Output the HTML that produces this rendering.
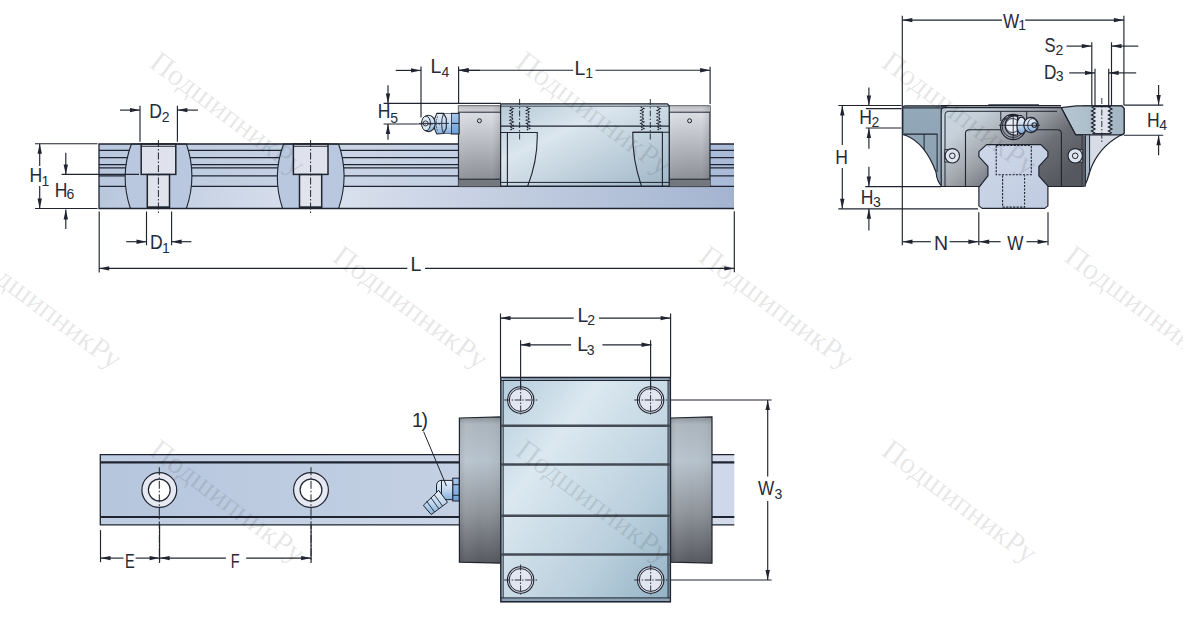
<!DOCTYPE html><html><head><meta charset="utf-8"><style>html,body{margin:0;padding:0;background:#fff;} svg{display:block;} text{font-family:"Liberation Sans",sans-serif;}</style></head><body>
<svg width="1183" height="627" viewBox="0 0 1183 627">
<defs>
<linearGradient id="railLow" x1="0" y1="0" x2="1" y2="0">
 <stop offset="0" stop-color="#b9c7dd"/><stop offset="0.35" stop-color="#dbe2ee"/><stop offset="1" stop-color="#a4b4d0"/>
</linearGradient>
<linearGradient id="railTop" x1="0" y1="0" x2="1" y2="0">
 <stop offset="0" stop-color="#b9c8de"/><stop offset="0.4" stop-color="#c9d4e6"/><stop offset="0.75" stop-color="#bccae0"/><stop offset="1" stop-color="#a9bad8"/>
</linearGradient>
<linearGradient id="sealV" x1="0" y1="0" x2="0" y2="1">
 <stop offset="0" stop-color="#dfe3e8"/><stop offset="0.12" stop-color="#d9dde2"/><stop offset="0.55" stop-color="#b0b4ba"/><stop offset="0.9" stop-color="#8e9198"/><stop offset="1" stop-color="#888b92"/>
</linearGradient>
<linearGradient id="sealTop" x1="0" y1="0" x2="0" y2="1">
 <stop offset="0" stop-color="#a9abb1"/><stop offset="0.3" stop-color="#c6c8cd"/><stop offset="1" stop-color="#cfd1d5"/>
</linearGradient>
<linearGradient id="sealEdge" x1="0" y1="0" x2="1" y2="0">
 <stop offset="0" stop-color="#ffffff" stop-opacity="0.05"/><stop offset="0.8" stop-color="#000000" stop-opacity="0"/><stop offset="1" stop-color="#000000" stop-opacity="0.12"/>
</linearGradient>
<linearGradient id="blockSide" x1="0" y1="0" x2="1" y2="1">
 <stop offset="0" stop-color="#b4c8d6"/><stop offset="0.35" stop-color="#dbe6ee"/><stop offset="1" stop-color="#9fb6c6"/>
</linearGradient>
<linearGradient id="blockPlan" x1="0" y1="0" x2="1" y2="1">
 <stop offset="0" stop-color="#b3cbdb"/><stop offset="0.3" stop-color="#dbe8f0"/><stop offset="0.7" stop-color="#b9cfdc"/><stop offset="1" stop-color="#92b1c5"/>
</linearGradient>
<linearGradient id="sealPlan" x1="0" y1="0" x2="0" y2="1">
 <stop offset="0" stop-color="#8a9096"/><stop offset="0.05" stop-color="#abb5bd"/><stop offset="0.3" stop-color="#b6c2cc"/><stop offset="0.65" stop-color="#8f949b"/><stop offset="1" stop-color="#56585e"/>
</linearGradient>
<linearGradient id="sealPlanV" x1="0" y1="0" x2="1" y2="0">
 <stop offset="0" stop-color="#000000" stop-opacity="0.06"/><stop offset="0.15" stop-color="#ffffff" stop-opacity="0.06"/><stop offset="0.5" stop-color="#ffffff" stop-opacity="0"/><stop offset="1" stop-color="#000000" stop-opacity="0.06"/>
</linearGradient>
<linearGradient id="railPlan" x1="0" y1="0" x2="1" y2="0">
 <stop offset="0" stop-color="#b6c6dd"/><stop offset="0.5" stop-color="#c2cfe3"/><stop offset="1" stop-color="#cfd8ea"/>
</linearGradient>
<linearGradient id="endSeal" x1="0" y1="0" x2="1" y2="0">
 <stop offset="0" stop-color="#c9d6e0"/><stop offset="0.45" stop-color="#b8c4ce"/><stop offset="1" stop-color="#5d5f68"/>
</linearGradient>
</defs>
<rect x="99" y="144" width="635" height="42.5" fill="url(#railTop)"/>
<rect x="99" y="186.5" width="635" height="22.0" fill="url(#railLow)"/>
<line x1="99" y1="150.3" x2="734" y2="150.3" stroke="#1f2430" stroke-width="1.3" />
<line x1="99" y1="157.7" x2="734" y2="157.7" stroke="#1f2430" stroke-width="1.3" />
<line x1="99" y1="164.6" x2="734" y2="164.6" stroke="#1f2430" stroke-width="1.3" />
<line x1="99" y1="167.9" x2="734" y2="167.9" stroke="#1f2430" stroke-width="1.3" />
<line x1="99" y1="175.8" x2="734" y2="175.8" stroke="#1f2430" stroke-width="1.3" />
<line x1="99" y1="186.3" x2="734" y2="186.3" stroke="#1f2430" stroke-width="1.3" />
<path d="M131.4,144 Q119.4,176 130.4,208.5 L186.4,208.5 Q197.4,176 186.4,144 Z" fill="#b9c8de" stroke="#1f2430" stroke-width="1.1"/>
<rect x="141.20000000000002" y="144" width="34.6" height="30.4" fill="#dfe2ec" stroke="#1f2430" stroke-width="1.5"/>
<line x1="141.20000000000002" y1="146.3" x2="175.6" y2="146.3" stroke="#1f2430" stroke-width="1.1" />
<rect x="147.3" y="174.6" width="22.2" height="33.2" fill="#e0e3ec" stroke="#1f2430" stroke-width="1.5"/>
<line x1="147.3" y1="207.3" x2="169.5" y2="207.3" stroke="#1f2430" stroke-width="2" />
<line x1="158.4" y1="140" x2="158.4" y2="213" stroke="#1f2430" stroke-width="1" stroke-dasharray="7,2,1.5,2"/>
<path d="M283.6,144 Q271.6,176 282.6,208.5 L338.6,208.5 Q349.6,176 338.6,144 Z" fill="#b9c8de" stroke="#1f2430" stroke-width="1.1"/>
<rect x="293.40000000000003" y="144" width="34.6" height="30.4" fill="#dfe2ec" stroke="#1f2430" stroke-width="1.5"/>
<line x1="293.40000000000003" y1="146.3" x2="327.8" y2="146.3" stroke="#1f2430" stroke-width="1.1" />
<rect x="299.5" y="174.6" width="22.2" height="33.2" fill="#e0e3ec" stroke="#1f2430" stroke-width="1.5"/>
<line x1="299.5" y1="207.3" x2="321.70000000000005" y2="207.3" stroke="#1f2430" stroke-width="2" />
<line x1="310.6" y1="140" x2="310.6" y2="213" stroke="#1f2430" stroke-width="1" stroke-dasharray="7,2,1.5,2"/>
<path d="M734,144 L99,144 L99,208.5 L734,208.5" fill="none" stroke="#1f2430" stroke-width="1.3"/>
<rect x="458.5" y="106" width="42.10000000000002" height="80.5" fill="url(#sealV)" stroke="#1f2430" stroke-width="1.2"/>
<rect x="458.5" y="106" width="42.10000000000002" height="6.2" fill="url(#sealTop)"/>
<line x1="458.5" y1="112.2" x2="500.6" y2="112.2" stroke="#1f2430" stroke-width="1" />
<rect x="458.5" y="106" width="42.10000000000002" height="80.5" fill="url(#sealEdge)"/>
<rect x="458.5" y="179.2" width="42.10000000000002" height="7.3" fill="#74777e"/>
<line x1="458.5" y1="179.2" x2="500.6" y2="179.2" stroke="#1f2430" stroke-width="1" />
<rect x="669.2" y="106" width="40.799999999999955" height="80.5" fill="url(#sealV)" stroke="#1f2430" stroke-width="1.2"/>
<rect x="669.2" y="106" width="40.799999999999955" height="6.2" fill="url(#sealTop)"/>
<line x1="669.2" y1="112.2" x2="710" y2="112.2" stroke="#1f2430" stroke-width="1" />
<rect x="669.2" y="106" width="40.799999999999955" height="80.5" fill="url(#sealEdge)"/>
<rect x="669.2" y="179.2" width="40.799999999999955" height="7.3" fill="#74777e"/>
<line x1="669.2" y1="179.2" x2="710" y2="179.2" stroke="#1f2430" stroke-width="1" />
<circle cx="479.4" cy="120.8" r="2" fill="none" stroke="#1f2430" stroke-width="1"/>
<circle cx="689.6" cy="120.8" r="2" fill="none" stroke="#1f2430" stroke-width="1"/>
<path d="M500.6,186 L500.6,105.3 Q500.6,103.8 502,103.8 L667.2,103.8 L669.2,105.8 L669.2,186 Z" fill="url(#blockSide)" stroke="#1f2430" stroke-width="1.2"/>
<line x1="500.6" y1="106.2" x2="669.2" y2="106.2" stroke="#1f2430" stroke-width="0.8" />
<line x1="500.6" y1="126.1" x2="669.2" y2="126.1" stroke="#1f2430" stroke-width="1.3" />
<line x1="500.6" y1="182.4" x2="669.2" y2="182.4" stroke="#1f2430" stroke-width="1" />
<path d="M507.4,186 L507.4,132.5 L537.2,132.5 C537.8,152 534,170 527.7,186" fill="none" stroke="#1f2430" stroke-width="1.1"/>
<line x1="500.6" y1="132.5" x2="537.2" y2="132.5" stroke="#1f2430" stroke-width="1.1" />
<path d="M662.4,186 L662.4,132.3 L632.8,132.3 C632.2,152 636,170 641.4,186" fill="none" stroke="#1f2430" stroke-width="1.1"/>
<line x1="632.8" y1="132.3" x2="669.2" y2="132.3" stroke="#1f2430" stroke-width="1.1" />
<polyline points="510.0,107.0 513.2,108.7 510.0,110.3 513.2,112.0 510.0,113.6 513.2,115.3 510.0,116.9 513.2,118.6 510.0,120.2 513.2,121.9 510.0,123.5 513.2,125.2 510.0,126.8 513.2,128.5 510.0,130.1" fill="none" stroke="#1f2430" stroke-width="1.2" stroke-dasharray="1.6,0.7"/>
<polyline points="526.4,107.0 529.6,108.7 526.4,110.3 529.6,112.0 526.4,113.6 529.6,115.3 526.4,116.9 529.6,118.6 526.4,120.2 529.6,121.9 526.4,123.5 529.6,125.2 526.4,126.8 529.6,128.5 526.4,130.1" fill="none" stroke="#1f2430" stroke-width="1.2" stroke-dasharray="1.6,0.7"/>
<line x1="519.6" y1="99" x2="519.6" y2="141" stroke="#1f2430" stroke-width="0.9" stroke-dasharray="6,2,1.5,2"/>
<polyline points="640.7,107.0 643.9,108.7 640.7,110.3 643.9,112.0 640.7,113.6 643.9,115.3 640.7,116.9 643.9,118.6 640.7,120.2 643.9,121.9 640.7,123.5 643.9,125.2 640.7,126.8 643.9,128.5 640.7,130.1" fill="none" stroke="#1f2430" stroke-width="1.2" stroke-dasharray="1.6,0.7"/>
<polyline points="657.1,107.0 660.3,108.7 657.1,110.3 660.3,112.0 657.1,113.6 660.3,115.3 657.1,116.9 660.3,118.6 657.1,120.2 660.3,121.9 657.1,123.5 660.3,125.2 657.1,126.8 660.3,128.5 657.1,130.1" fill="none" stroke="#1f2430" stroke-width="1.2" stroke-dasharray="1.6,0.7"/>
<line x1="650.3" y1="99" x2="650.3" y2="141" stroke="#1f2430" stroke-width="0.9" stroke-dasharray="6,2,1.5,2"/>
<defs><linearGradient id="nipV" x1="0" y1="0" x2="0" y2="1"><stop offset="0" stop-color="#e8f0f8"/><stop offset="0.5" stop-color="#c2d8ee"/><stop offset="1" stop-color="#86b0de"/></linearGradient><linearGradient id="nipB" x1="0" y1="0" x2="0" y2="1"><stop offset="0" stop-color="#a8c8ea"/><stop offset="1" stop-color="#6c9fd8"/></linearGradient></defs>
<rect x="451.3" y="113.4" width="7.8" height="20.6" fill="url(#nipB)" stroke="#1f2430" stroke-width="1.1"/>
<line x1="451.3" y1="123.4" x2="459.1" y2="123.4" stroke="#1f2430" stroke-width="1" />
<rect x="443.5" y="113.6" width="7.8" height="19.9" fill="url(#nipV)" stroke="#1f2430" stroke-width="0.6"/>
<path d="M436.8,113.4 L443.5,113.4 L446.3,118.4 L446.3,128.4 L443.5,133.5 L436.8,134 Q431,123.7 436.8,113.4 Z" fill="url(#nipV)" stroke="#1f2430" stroke-width="1.1"/>
<path d="M443.3,114 Q440,123.7 443.3,133.3" fill="none" stroke="#1f2430" stroke-width="0.9"/>
<path d="M437.5,116.5 Q435,123.7 437.5,131" fill="none" stroke="#1f2430" stroke-width="0.8" stroke-dasharray="1.5,1"/>
<ellipse cx="428.6" cy="123.4" rx="6.6" ry="8.2" fill="url(#nipV)" stroke="#1f2430" stroke-width="1.1"/>
<ellipse cx="426" cy="123.4" rx="4.4" ry="7.3" fill="#dfe9f4" stroke="#1f2430" stroke-width="1"/>
<circle cx="425.6" cy="123.4" r="2.5" fill="none" stroke="#1f2430" stroke-width="0.9"/>
<line x1="419" y1="123.4" x2="449" y2="123.4" stroke="#1f2430" stroke-width="0.9" />
<line x1="140" y1="105.8" x2="140" y2="141.7" stroke="#1f2430" stroke-width="1.15" />
<line x1="177.4" y1="105.8" x2="177.4" y2="141.7" stroke="#1f2430" stroke-width="1.15" />
<line x1="120" y1="110.1" x2="140" y2="110.1" stroke="#1f2430" stroke-width="1.15" />
<polygon points="140.0,110.1 130.0,107.9 130.0,112.3" fill="#1f2430"/>
<line x1="198" y1="110.1" x2="177.4" y2="110.1" stroke="#1f2430" stroke-width="1.15" />
<polygon points="177.4,110.1 187.4,107.9 187.4,112.3" fill="#1f2430"/>
<text transform="translate(149.3,118.1) scale(0.9,1)" font-size="19.5" fill="#262b38">D</text>
<text transform="translate(161.8,122.0) scale(1.0,1)" font-size="14" fill="#262b38">2</text>
<line x1="146.5" y1="211.5" x2="146.5" y2="245.3" stroke="#1f2430" stroke-width="1.15" />
<line x1="171.6" y1="211.5" x2="171.6" y2="245.3" stroke="#1f2430" stroke-width="1.15" />
<line x1="126.2" y1="241.7" x2="146.5" y2="241.7" stroke="#1f2430" stroke-width="1.15" />
<polygon points="146.5,241.7 136.5,239.5 136.5,243.9" fill="#1f2430"/>
<line x1="191.4" y1="241.7" x2="171.6" y2="241.7" stroke="#1f2430" stroke-width="1.15" />
<polygon points="171.6,241.7 181.6,239.5 181.6,243.9" fill="#1f2430"/>
<text transform="translate(150.1,248.7) scale(0.9,1)" font-size="19.5" fill="#262b38">D</text>
<text transform="translate(162.1,252.7) scale(1.0,1)" font-size="14" fill="#262b38">1</text>
<line x1="35" y1="143.7" x2="97.5" y2="143.7" stroke="#1f2430" stroke-width="1.15" />
<line x1="35" y1="208.5" x2="97.5" y2="208.5" stroke="#1f2430" stroke-width="1.15" />
<line x1="39.7" y1="166" x2="39.7" y2="143.7" stroke="#1f2430" stroke-width="1.15" />
<polygon points="39.7,143.7 37.5,153.7 41.9,153.7" fill="#1f2430"/>
<line x1="39.7" y1="186" x2="39.7" y2="208.5" stroke="#1f2430" stroke-width="1.15" />
<polygon points="39.7,208.5 37.5,198.5 41.9,198.5" fill="#1f2430"/>
<text transform="translate(29.4,182.3) scale(0.9,1)" font-size="19.5" fill="#262b38">H</text>
<text transform="translate(41.4,186.0) scale(1.0,1)" font-size="14" fill="#262b38">1</text>
<line x1="61.6" y1="174.4" x2="139" y2="174.4" stroke="#1f2430" stroke-width="1.15" />
<line x1="65.8" y1="152.8" x2="65.8" y2="174.4" stroke="#1f2430" stroke-width="1.15" />
<polygon points="65.8,174.4 63.6,164.4 68.0,164.4" fill="#1f2430"/>
<line x1="65.8" y1="229" x2="65.8" y2="209.5" stroke="#1f2430" stroke-width="1.15" />
<polygon points="65.8,209.5 63.6,219.5 68.0,219.5" fill="#1f2430"/>
<text transform="translate(54.7,196.5) scale(0.9,1)" font-size="19.5" fill="#262b38">H</text>
<text transform="translate(66.5,198.8) scale(1.0,1)" font-size="14" fill="#262b38">6</text>
<line x1="99.2" y1="211.5" x2="99.2" y2="272.4" stroke="#1f2430" stroke-width="1.15" />
<line x1="734.3" y1="211.2" x2="734.3" y2="272.3" stroke="#1f2430" stroke-width="1.15" />
<line x1="407.3" y1="268.4" x2="99.2" y2="268.4" stroke="#1f2430" stroke-width="1.15" />
<polygon points="99.2,268.4 109.2,266.2 109.2,270.6" fill="#1f2430"/>
<line x1="425" y1="268.4" x2="734.3" y2="268.4" stroke="#1f2430" stroke-width="1.15" />
<polygon points="734.3,268.4 724.3,266.2 724.3,270.6" fill="#1f2430"/>
<text transform="translate(410.5,271.3) scale(1.0,1)" font-size="19.5" fill="#262b38">L</text>
<line x1="458.6" y1="66.5" x2="458.6" y2="104" stroke="#1f2430" stroke-width="1.15" />
<line x1="710.1" y1="66.8" x2="710.1" y2="104" stroke="#1f2430" stroke-width="1.15" />
<line x1="573.2" y1="70.2" x2="458.6" y2="70.2" stroke="#1f2430" stroke-width="1.15" />
<polygon points="458.6,70.2 468.6,68.0 468.6,72.4" fill="#1f2430"/>
<line x1="595.5" y1="70.2" x2="710.1" y2="70.2" stroke="#1f2430" stroke-width="1.15" />
<polygon points="710.1,70.2 700.1,68.0 700.1,72.4" fill="#1f2430"/>
<text transform="translate(574.6,74.9) scale(1.0,1)" font-size="19.5" fill="#262b38">L</text>
<text transform="translate(585.3,77.7) scale(1.0,1)" font-size="14" fill="#262b38">1</text>
<line x1="421" y1="66.5" x2="421" y2="117.5" stroke="#1f2430" stroke-width="1.15" />
<line x1="395.8" y1="70.4" x2="421" y2="70.4" stroke="#1f2430" stroke-width="1.15" />
<polygon points="421.0,70.4 411.0,68.2 411.0,72.6" fill="#1f2430"/>
<line x1="480" y1="70.4" x2="458.6" y2="70.4" stroke="#1f2430" stroke-width="1.15" />
<polygon points="458.6,70.4 468.6,68.2 468.6,72.6" fill="#1f2430"/>
<text transform="translate(430.4,73.0) scale(1.0,1)" font-size="19.5" fill="#262b38">L</text>
<text transform="translate(441.5,76.5) scale(1.0,1)" font-size="14" fill="#262b38">4</text>
<line x1="383.6" y1="103.4" x2="501" y2="103.4" stroke="#1f2430" stroke-width="1.15" />
<line x1="383.6" y1="124" x2="417.4" y2="124" stroke="#1f2430" stroke-width="1.15" />
<line x1="388" y1="85.2" x2="388" y2="103.4" stroke="#1f2430" stroke-width="1.15" />
<polygon points="388.0,103.4 385.8,93.4 390.2,93.4" fill="#1f2430"/>
<line x1="388" y1="139.7" x2="388" y2="124" stroke="#1f2430" stroke-width="1.15" />
<polygon points="388.0,124.0 385.8,134.0 390.2,134.0" fill="#1f2430"/>
<text transform="translate(377.7,118.2) scale(0.9,1)" font-size="19.5" fill="#262b38">H</text>
<text transform="translate(390.2,122.5) scale(1.0,1)" font-size="14" fill="#262b38">5</text>
<line x1="417.4" y1="124" x2="440" y2="124" stroke="#1f2430" stroke-width="0.9" stroke-dasharray="5,2,1.5,2"/>
<defs>
<linearGradient id="flangeL" x1="0" y1="0" x2="0" y2="1"><stop offset="0" stop-color="#93a8b8"/><stop offset="1" stop-color="#8aa0b1"/></linearGradient>
<linearGradient id="flangeRTop" x1="0" y1="0" x2="1" y2="0"><stop offset="0" stop-color="#b6c6d2"/><stop offset="1" stop-color="#a3b5c3"/></linearGradient>
<linearGradient id="endBody" x1="0" y1="0" x2="1" y2="0.7"><stop offset="0" stop-color="#c8d5df"/><stop offset="0.22" stop-color="#c6d1da"/><stop offset="0.48" stop-color="#a2a7ae"/><stop offset="0.72" stop-color="#6c6e76"/><stop offset="1" stop-color="#56585f"/></linearGradient>
<linearGradient id="railEnd" x1="0" y1="0" x2="1" y2="1"><stop offset="0" stop-color="#cfd8e9"/><stop offset="1" stop-color="#c0cbe1"/></linearGradient>
<linearGradient id="nipBlue" x1="0" y1="0" x2="0" y2="1"><stop offset="0" stop-color="#eef3f9"/><stop offset="0.5" stop-color="#c6d9ee"/><stop offset="1" stop-color="#7aa6d8"/></linearGradient>
</defs>
<path d="M902.8,134.5 L902.8,108.5 Q902.8,105.8 905.5,105.8 L946,105.8 L946,186.5 L942,186.5 Q937,182 936,172 Q925,143 906,135.5 Z" fill="url(#flangeL)" stroke="#1f2430" stroke-width="1.2"/>
<line x1="903.5" y1="107.6" x2="946" y2="107.6" stroke="#4a5560" stroke-width="2.2" />
<line x1="904" y1="134.1" x2="937.4" y2="134.1" stroke="#1f2430" stroke-width="1.1" />
<line x1="924.1" y1="134.1" x2="924.1" y2="150" stroke="#1f2430" stroke-width="1" />
<line x1="937.1" y1="134.1" x2="937.1" y2="172" stroke="#1f2430" stroke-width="1" />
<path d="M1083,186.5 L1083,105.8 L1121.8,105.8 L1124.1,108.5 L1124.1,132.6 Q1124,135 1120,135.6 Q1098,148 1090,171 Q1087,182 1084,186.5 Z" fill="#d8dce6" stroke="#1f2430" stroke-width="1.2"/>
<path d="M1061.2,107.6 L1076.4,105.8 L1121.8,105.8 L1124.1,108.5 L1124.1,132.6 Q1124,134.8 1119.5,134.8 L1075.6,134.8 Z" fill="url(#flangeRTop)" stroke="#1f2430" stroke-width="1.2"/>
<rect x="1092.3" y="106.2" width="18.9" height="28" fill="#dee3ec"/>
<polyline points="1091.6,107.0 1095.0,109.0 1091.6,111.0 1095.0,113.0 1091.6,115.0 1095.0,117.0 1091.6,119.0 1095.0,121.0 1091.6,123.0 1095.0,125.0 1091.6,127.0 1095.0,129.0 1091.6,131.0 1095.0,133.0" fill="none" stroke="#1f2430" stroke-width="1.3"/>
<polyline points="1108.5,107.0 1111.9,109.0 1108.5,111.0 1111.9,113.0 1108.5,115.0 1111.9,117.0 1108.5,119.0 1111.9,121.0 1108.5,123.0 1111.9,125.0 1108.5,127.0 1111.9,129.0 1108.5,131.0 1111.9,133.0" fill="none" stroke="#1f2430" stroke-width="1.3"/>
<line x1="1092.3" y1="106.5" x2="1111.2" y2="106.5" stroke="#1f2430" stroke-width="1.5" />
<line x1="1092.3" y1="133.8" x2="1111.2" y2="133.8" stroke="#1f2430" stroke-width="1.5" />
<line x1="1101.8" y1="98" x2="1101.8" y2="142" stroke="#1f2430" stroke-width="0.9" stroke-dasharray="6,2,1.5,2"/>
<path d="M941.2,186.5 L941.2,111 Q941.2,107.6 944.5,107.6 L1061.2,107.6 L1075.6,134.8 L1082.4,134.8 L1082.4,186.5 Z" fill="url(#endBody)" stroke="#1f2430" stroke-width="1.2"/>
<path d="M945,186 L945,114.5 Q945,111.3 948.5,111.3 L1057,111.3" fill="none" stroke="#1f2430" stroke-width="1"/>
<path d="M965.5,186.5 L965.5,133.5 Q965.5,129.7 969.5,129.7 L1057.5,129.7 Q1061.4,129.7 1061.4,133.5 L1061.4,186.5" fill="none" stroke="#1f2430" stroke-width="1.1"/>
<path d="M1082.4,134.8 L1089.6,134.8 L1089.6,171 Q1087.5,181 1084,186.5 L1082.4,186.5 Z" fill="#a3b6c4" stroke="#1f2430" stroke-width="1"/>
<rect x="1082.4" y="135.3" width="3" height="51" fill="#5a5c63"/>
<line x1="1085.5" y1="134.8" x2="1085.5" y2="186.5" stroke="#1f2430" stroke-width="0.9" />
<line x1="988.3" y1="104.8" x2="1039" y2="104.8" stroke="#5a6470" stroke-width="1.6" />
<line x1="941" y1="105.8" x2="1061" y2="105.8" stroke="#1f2430" stroke-width="1.4" />
<rect x="944.8" y="149.6" width="7.5" height="12.4" fill="#c8d2dc" stroke="#1f2430" stroke-width="0.9"/>
<circle cx="952.3" cy="155.8" r="7.2" fill="#dfe5ec" stroke="#1f2430" stroke-width="1.1"/>
<circle cx="952.3" cy="155.8" r="2.8" fill="none" stroke="#1f2430" stroke-width="1"/>
<rect x="1075.2" y="149.6" width="7.5" height="12.4" fill="#c8d2dc" stroke="#1f2430" stroke-width="0.9"/>
<circle cx="1075.2" cy="155.8" r="7.2" fill="#dfe5ec" stroke="#1f2430" stroke-width="1.1"/>
<circle cx="1075.2" cy="155.8" r="2.8" fill="none" stroke="#1f2430" stroke-width="1"/>
<line x1="1000.8" y1="111.3" x2="1000.8" y2="121" stroke="#1f2430" stroke-width="1" />
<line x1="1026.7" y1="111.3" x2="1026.7" y2="121" stroke="#1f2430" stroke-width="1" />
<circle cx="1013.2" cy="127" r="12.6" fill="#9aa0a8" stroke="#1f2430" stroke-width="1.2"/>
<path d="M1004,119 L1007,115.5 L1022,115.5 L1025,119 Z" fill="#b9c0c8" stroke="#1f2430" stroke-width="1"/>
<circle cx="1013.2" cy="126.5" r="11" fill="none" stroke="#1f2430" stroke-width="0.9"/>
<path d="M1017.5,116.3 A9.6,9.6 0 1 0 1017.5,134.7 Z" fill="#e6edf5" stroke="#1f2430" stroke-width="1.2"/>
<circle cx="1012.5" cy="125.5" r="7" fill="none" stroke="#1f2430" stroke-width="0.9"/>
<ellipse cx="1021.5" cy="125.5" rx="4.6" ry="8.4" fill="url(#nipBlue)" stroke="#1f2430" stroke-width="1.2"/>
<ellipse cx="1031" cy="125" rx="7.2" ry="7.6" fill="url(#nipBlue)" stroke="#1f2430" stroke-width="1.2"/>
<ellipse cx="1032.5" cy="125" rx="4.8" ry="6.4" fill="none" stroke="#1f2430" stroke-width="0.9"/>
<circle cx="1034.3" cy="125" r="2.3" fill="none" stroke="#1f2430" stroke-width="1.1"/>
<line x1="999" y1="125.3" x2="1040" y2="125.3" stroke="#1f2430" stroke-width="0.9" />
<line x1="1013.2" y1="114" x2="1013.2" y2="139" stroke="#1f2430" stroke-width="0.9" />
<polygon points="986.6,144.6 1040.9,144.6 1047.9,151.6 1047.9,156.7 1038.9,166.3 1038.9,175.9 1047.9,186.1 1047.9,205.9 1044.7,208.4 982.1,208.4 978.9,205.9 978.9,187.3 987.9,175.9 987.9,166.3 978.9,156.7 978.9,151.6" fill="url(#railEnd)" stroke="#1f2430" stroke-width="1.2" stroke-linejoin="round"/>
<path d="M996.2,145.5 L996.2,174.8 L1031.3,174.8 L1031.3,145.5 M1002.6,175.6 L1002.6,207.1 L1024.6,207.1 L1024.6,175.6" fill="none" stroke="#1f2430" stroke-width="1.1" stroke-dasharray="2.2,1.3"/>
<line x1="996.2" y1="145.5" x2="1031.3" y2="145.5" stroke="#1f2430" stroke-width="1.1" stroke-dasharray="2.2,1.3"/>
<line x1="902.3" y1="15.8" x2="902.3" y2="245.3" stroke="#1f2430" stroke-width="1.15" />
<line x1="1123.9" y1="15.8" x2="1123.9" y2="105" stroke="#1f2430" stroke-width="1.15" />
<line x1="1002" y1="20.1" x2="902.3" y2="20.1" stroke="#1f2430" stroke-width="1.15" />
<polygon points="902.3,20.1 912.3,17.9 912.3,22.3" fill="#1f2430"/>
<line x1="1025.2" y1="20.1" x2="1123.9" y2="20.1" stroke="#1f2430" stroke-width="1.15" />
<polygon points="1123.9,20.1 1113.9,17.9 1113.9,22.3" fill="#1f2430"/>
<text transform="translate(1002.9,27.5) scale(0.88,1)" font-size="19.5" fill="#262b38">W</text>
<text transform="translate(1018.2,29.6) scale(1.0,1)" font-size="14" fill="#262b38">1</text>
<line x1="1091.8" y1="42.3" x2="1091.8" y2="106" stroke="#1f2430" stroke-width="1.15" />
<line x1="1111.5" y1="42.3" x2="1111.5" y2="106" stroke="#1f2430" stroke-width="1.15" />
<line x1="1095" y1="68.7" x2="1095" y2="106" stroke="#1f2430" stroke-width="1.15" />
<line x1="1108.7" y1="68.7" x2="1108.7" y2="106" stroke="#1f2430" stroke-width="1.15" />
<line x1="1066.5" y1="46.1" x2="1091.8" y2="46.1" stroke="#1f2430" stroke-width="1.15" />
<polygon points="1091.8,46.1 1081.8,43.9 1081.8,48.3" fill="#1f2430"/>
<line x1="1138.3" y1="46.1" x2="1111.5" y2="46.1" stroke="#1f2430" stroke-width="1.15" />
<polygon points="1111.5,46.1 1121.5,43.9 1121.5,48.3" fill="#1f2430"/>
<text transform="translate(1044.6,51.8) scale(0.85,1)" font-size="19.5" fill="#262b38">S</text>
<text transform="translate(1055.6,54.5) scale(1.0,1)" font-size="14" fill="#262b38">2</text>
<line x1="1069.2" y1="72.9" x2="1095" y2="72.9" stroke="#1f2430" stroke-width="1.15" />
<polygon points="1095.0,72.9 1085.0,70.7 1085.0,75.1" fill="#1f2430"/>
<line x1="1136.2" y1="72.9" x2="1108.7" y2="72.9" stroke="#1f2430" stroke-width="1.15" />
<polygon points="1108.7,72.9 1118.7,70.7 1118.7,75.1" fill="#1f2430"/>
<text transform="translate(1043.9,78.6) scale(0.88,1)" font-size="19.5" fill="#262b38">D</text>
<text transform="translate(1055.8,80.7) scale(1.0,1)" font-size="14" fill="#262b38">3</text>
<line x1="1123.8" y1="105.1" x2="1163.2" y2="105.1" stroke="#1f2430" stroke-width="1.15" />
<line x1="1123.8" y1="135.2" x2="1163.2" y2="135.2" stroke="#1f2430" stroke-width="1.15" />
<line x1="1158.6" y1="85" x2="1158.6" y2="105.1" stroke="#1f2430" stroke-width="1.15" />
<polygon points="1158.6,105.1 1156.4,95.1 1160.8,95.1" fill="#1f2430"/>
<line x1="1158.6" y1="155.3" x2="1158.6" y2="135.2" stroke="#1f2430" stroke-width="1.15" />
<polygon points="1158.6,135.2 1156.4,145.2 1160.8,145.2" fill="#1f2430"/>
<text transform="translate(1146.9,126.6) scale(0.9,1)" font-size="19.5" fill="#262b38">H</text>
<text transform="translate(1159.3,129.5) scale(1.0,1)" font-size="14" fill="#262b38">4</text>
<line x1="838.3" y1="105.5" x2="901.5" y2="105.5" stroke="#1f2430" stroke-width="1.15" />
<line x1="865.8" y1="108.6" x2="901.5" y2="108.6" stroke="#1f2430" stroke-width="1.15" />
<line x1="865.8" y1="128" x2="901.5" y2="128" stroke="#1f2430" stroke-width="1.15" />
<line x1="868.9" y1="87.6" x2="868.9" y2="105.5" stroke="#1f2430" stroke-width="1.15" />
<polygon points="868.9,105.5 866.7,95.5 871.1,95.5" fill="#1f2430"/>
<line x1="868.9" y1="148.8" x2="868.9" y2="128" stroke="#1f2430" stroke-width="1.15" />
<polygon points="868.9,128.0 866.7,138.0 871.1,138.0" fill="#1f2430"/>
<text transform="translate(859.2,123.8) scale(0.9,1)" font-size="19.5" fill="#262b38">H</text>
<text transform="translate(871.6,127.2) scale(1.0,1)" font-size="14" fill="#262b38">2</text>
<line x1="842.3" y1="145" x2="842.3" y2="105.5" stroke="#1f2430" stroke-width="1.15" />
<polygon points="842.3,105.5 840.1,115.5 844.5,115.5" fill="#1f2430"/>
<line x1="842.3" y1="168" x2="842.3" y2="208.8" stroke="#1f2430" stroke-width="1.15" />
<polygon points="842.3,208.8 840.1,198.8 844.5,198.8" fill="#1f2430"/>
<text transform="translate(835.3,164.1) scale(0.9,1)" font-size="19.5" fill="#262b38">H</text>
<line x1="865.3" y1="186.6" x2="941" y2="186.6" stroke="#1f2430" stroke-width="1.15" />
<line x1="838.3" y1="208.8" x2="978" y2="208.8" stroke="#1f2430" stroke-width="1.15" />
<line x1="868.9" y1="166.7" x2="868.9" y2="186.6" stroke="#1f2430" stroke-width="1.15" />
<polygon points="868.9,186.6 866.7,176.6 871.1,176.6" fill="#1f2430"/>
<line x1="868.9" y1="230.4" x2="868.9" y2="208.8" stroke="#1f2430" stroke-width="1.15" />
<polygon points="868.9,208.8 866.7,218.8 871.1,218.8" fill="#1f2430"/>
<text transform="translate(860.8,203.7) scale(0.9,1)" font-size="19.5" fill="#262b38">H</text>
<text transform="translate(872.9,207.0) scale(1.0,1)" font-size="14" fill="#262b38">3</text>
<line x1="978.8" y1="212.2" x2="978.8" y2="245.3" stroke="#1f2430" stroke-width="1.15" />
<line x1="1048" y1="212.2" x2="1048" y2="245.3" stroke="#1f2430" stroke-width="1.15" />
<line x1="930.9" y1="241.7" x2="902.5" y2="241.7" stroke="#1f2430" stroke-width="1.15" />
<polygon points="902.5,241.7 912.5,239.5 912.5,243.9" fill="#1f2430"/>
<line x1="949.6" y1="241.7" x2="978.4" y2="241.7" stroke="#1f2430" stroke-width="1.15" />
<polygon points="978.4,241.7 968.4,239.5 968.4,243.9" fill="#1f2430"/>
<text transform="translate(934.1,250.3) scale(1.0,1)" font-size="19.5" fill="#262b38">N</text>
<line x1="1000.6" y1="241.7" x2="979.2" y2="241.7" stroke="#1f2430" stroke-width="1.15" />
<polygon points="979.2,241.7 989.2,239.5 989.2,243.9" fill="#1f2430"/>
<line x1="1026.5" y1="241.7" x2="1047.6" y2="241.7" stroke="#1f2430" stroke-width="1.15" />
<polygon points="1047.6,241.7 1037.6,239.5 1037.6,243.9" fill="#1f2430"/>
<text transform="translate(1007.3,250.3) scale(0.88,1)" font-size="19.5" fill="#262b38">W</text>
<rect x="100.3" y="454.6" width="634" height="70.2" fill="url(#railPlan)"/>
<rect x="100.3" y="454.6" width="634" height="7.8" fill="#ffffff" opacity="0.12"/>
<rect x="100.3" y="517" width="634" height="7.8" fill="#ffffff" opacity="0.12"/>
<line x1="100.3" y1="462.4" x2="734.3" y2="462.4" stroke="#1f2430" stroke-width="2.2" />
<line x1="100.3" y1="517" x2="734.3" y2="517" stroke="#1f2430" stroke-width="2.2" />
<path d="M734.3,454.6 L100.3,454.6 L100.3,524.8 L734.3,524.8" fill="none" stroke="#1f2430" stroke-width="1.3"/>
<circle cx="159.3" cy="490" r="17.4" fill="#e6e9f1" stroke="#1f2430" stroke-width="1.2"/>
<circle cx="159.3" cy="490" r="10.9" fill="#ffffff" stroke="#1f2430" stroke-width="1.2"/>
<line x1="159.3" y1="467.3" x2="159.3" y2="563" stroke="#1f2430" stroke-width="1" stroke-dasharray="8,2,1.5,2"/>
<circle cx="311" cy="490" r="17.4" fill="#e6e9f1" stroke="#1f2430" stroke-width="1.2"/>
<circle cx="311" cy="490" r="10.9" fill="#ffffff" stroke="#1f2430" stroke-width="1.2"/>
<line x1="311" y1="467.3" x2="311" y2="563" stroke="#1f2430" stroke-width="1" stroke-dasharray="8,2,1.5,2"/>
<path d="M459.4,418 L501,416.8 L501,563.2 L459.4,562.2 Z" fill="url(#sealPlan)" stroke="#1f2430" stroke-width="1.2"/>
<path d="M459.4,418 L501,416.8 L501,563.2 L459.4,562.2 Z" fill="url(#sealPlanV)"/>
<path d="M670.5,418 L712,416.8 L712,563.2 L670.5,562.2 Z" fill="url(#sealPlan)" stroke="#1f2430" stroke-width="1.2"/>
<path d="M670.5,418 L712,416.8 L712,563.2 L670.5,562.2 Z" fill="url(#sealPlanV)"/>
<rect x="500.9" y="377.5" width="169.5" height="224.2" fill="url(#blockPlan)" stroke="#1f2430" stroke-width="1.3"/>
<rect x="500.9" y="377.5" width="169.5" height="3" fill="#8da3b4"/>
<rect x="500.9" y="377.5" width="2.3" height="224.2" fill="#b0c4d2"/>
<rect x="668" y="377.5" width="2.4" height="224.2" fill="#8499aa"/>
<rect x="500.9" y="597.9" width="169.5" height="3.8" fill="#8da3b4"/>
<rect x="500.9" y="377.5" width="169.5" height="224.2" fill="none" stroke="#1f2430" stroke-width="1.3"/>
<line x1="500.9" y1="380.5" x2="670.4" y2="380.5" stroke="#1f2430" stroke-width="1" />
<line x1="503.2" y1="380.5" x2="503.2" y2="598" stroke="#1f2430" stroke-width="0.9" />
<line x1="668" y1="380.5" x2="668" y2="598" stroke="#1f2430" stroke-width="0.9" />
<line x1="500.9" y1="597.9" x2="670.4" y2="597.9" stroke="#1f2430" stroke-width="1" />
<line x1="500.9" y1="425.8" x2="670.4" y2="425.8" stroke="#454b54" stroke-width="2.6" />
<line x1="500.9" y1="464.5" x2="670.4" y2="464.5" stroke="#454b54" stroke-width="2.6" />
<line x1="500.9" y1="515.7" x2="670.4" y2="515.7" stroke="#454b54" stroke-width="2.6" />
<line x1="500.9" y1="554.5" x2="670.4" y2="554.5" stroke="#454b54" stroke-width="2.6" />
<circle cx="520.7" cy="400" r="13.2" fill="#e2e6f1" stroke="#1f2430" stroke-width="1.1"/>
<circle cx="520.7" cy="400" r="11.4" fill="none" stroke="#1f2430" stroke-width="1"/>
<line x1="504.20000000000005" y1="400" x2="537.2" y2="400" stroke="#1f2430" stroke-width="0.9" stroke-dasharray="6,1.5,1.5,1.5"/>
<line x1="520.7" y1="384.5" x2="520.7" y2="416" stroke="#1f2430" stroke-width="0.9" stroke-dasharray="6,1.5,1.5,1.5"/>
<circle cx="650.6" cy="400" r="13.2" fill="#e2e6f1" stroke="#1f2430" stroke-width="1.1"/>
<circle cx="650.6" cy="400" r="11.4" fill="none" stroke="#1f2430" stroke-width="1"/>
<line x1="634.1" y1="400" x2="667.1" y2="400" stroke="#1f2430" stroke-width="0.9" stroke-dasharray="6,1.5,1.5,1.5"/>
<line x1="650.6" y1="384.5" x2="650.6" y2="416" stroke="#1f2430" stroke-width="0.9" stroke-dasharray="6,1.5,1.5,1.5"/>
<circle cx="520.6" cy="580" r="13.2" fill="#e2e6f1" stroke="#1f2430" stroke-width="1.1"/>
<circle cx="520.6" cy="580" r="11.4" fill="none" stroke="#1f2430" stroke-width="1"/>
<line x1="504.1" y1="580" x2="537.1" y2="580" stroke="#1f2430" stroke-width="0.9" stroke-dasharray="6,1.5,1.5,1.5"/>
<line x1="520.6" y1="564.5" x2="520.6" y2="596" stroke="#1f2430" stroke-width="0.9" stroke-dasharray="6,1.5,1.5,1.5"/>
<circle cx="650.7" cy="580" r="13.2" fill="#e2e6f1" stroke="#1f2430" stroke-width="1.1"/>
<circle cx="650.7" cy="580" r="11.4" fill="none" stroke="#1f2430" stroke-width="1"/>
<line x1="634.2" y1="580" x2="667.2" y2="580" stroke="#1f2430" stroke-width="0.9" stroke-dasharray="6,1.5,1.5,1.5"/>
<line x1="650.7" y1="564.5" x2="650.7" y2="596" stroke="#1f2430" stroke-width="0.9" stroke-dasharray="6,1.5,1.5,1.5"/>
<rect x="452.7" y="478.2" width="6.4" height="22.8" fill="url(#nipB)" stroke="#1f2430" stroke-width="1"/>
<line x1="452.7" y1="484.7" x2="459.1" y2="484.7" stroke="#1f2430" stroke-width="1" />
<line x1="452.7" y1="495.3" x2="459.1" y2="495.3" stroke="#1f2430" stroke-width="1" />
<path d="M452.7,480.4 L441,480.4 Q436.5,481 436.5,486 L436.5,492 L444,499.6 L452.7,499.6 Z" fill="url(#nipV)" stroke="#1f2430" stroke-width="1"/>
<line x1="441.5" y1="480.4" x2="441.5" y2="497" stroke="#1f2430" stroke-width="1" />
<polygon points="423.3,505.4 431.2,514.6 447.5,502.3 438.7,490.4" fill="url(#nipV)" stroke="#1f2430" stroke-width="1"/>
<line x1="426.5" y1="501" x2="434.5" y2="512" stroke="#1f2430" stroke-width="0.9" />
<line x1="431" y1="497.8" x2="439" y2="509" stroke="#1f2430" stroke-width="0.9" />
<line x1="434.5" y1="495" x2="442.5" y2="506" stroke="#1f2430" stroke-width="0.9" />
<line x1="423.6" y1="431.6" x2="446.5" y2="486.1" stroke="#1f2430" stroke-width="1" />
<text transform="translate(412.0,426.5) scale(1.0,1)" font-size="19.5" fill="#262b38">1</text>
<text x="421.5" y="426.5" font-size="19.5" fill="#262b38">)</text>
<line x1="500.5" y1="313.5" x2="500.5" y2="377" stroke="#1f2430" stroke-width="1.15" />
<line x1="670.6" y1="313.5" x2="670.6" y2="377" stroke="#1f2430" stroke-width="1.15" />
<line x1="573.7" y1="318.1" x2="500.5" y2="318.1" stroke="#1f2430" stroke-width="1.15" />
<polygon points="500.5,318.1 510.5,315.9 510.5,320.3" fill="#1f2430"/>
<line x1="599" y1="318.1" x2="670.6" y2="318.1" stroke="#1f2430" stroke-width="1.15" />
<polygon points="670.6,318.1 660.6,315.9 660.6,320.3" fill="#1f2430"/>
<text transform="translate(577.5,322.0) scale(1.0,1)" font-size="19.5" fill="#262b38">L</text>
<text transform="translate(587.3,325.0) scale(1.0,1)" font-size="14" fill="#262b38">2</text>
<line x1="520.6" y1="340.2" x2="520.6" y2="388" stroke="#1f2430" stroke-width="1.15" />
<line x1="650.6" y1="340.2" x2="650.6" y2="388" stroke="#1f2430" stroke-width="1.15" />
<line x1="571.1" y1="344.8" x2="520.4" y2="344.8" stroke="#1f2430" stroke-width="1.15" />
<polygon points="520.4,344.8 530.4,342.6 530.4,347.0" fill="#1f2430"/>
<line x1="602.4" y1="344.8" x2="651.5" y2="344.8" stroke="#1f2430" stroke-width="1.15" />
<polygon points="651.5,344.8 641.5,342.6 641.5,347.0" fill="#1f2430"/>
<text transform="translate(577.2,350.7) scale(1.0,1)" font-size="19.5" fill="#262b38">L</text>
<text transform="translate(586.7,355.0) scale(1.0,1)" font-size="14" fill="#262b38">3</text>
<line x1="670.7" y1="400" x2="771.6" y2="400" stroke="#1f2430" stroke-width="1.15" />
<line x1="671" y1="580" x2="771.6" y2="580" stroke="#1f2430" stroke-width="1.15" />
<line x1="767.7" y1="476.5" x2="767.7" y2="400" stroke="#1f2430" stroke-width="1.15" />
<polygon points="767.7,400.0 765.5,410.0 769.9,410.0" fill="#1f2430"/>
<line x1="767.7" y1="501" x2="767.7" y2="580" stroke="#1f2430" stroke-width="1.15" />
<polygon points="767.7,580.0 765.5,570.0 769.9,570.0" fill="#1f2430"/>
<text transform="translate(758.1,494.8) scale(0.88,1)" font-size="19.5" fill="#262b38">W</text>
<text transform="translate(774.5,498.7) scale(1.0,1)" font-size="14" fill="#262b38">3</text>
<line x1="100.5" y1="530.1" x2="100.5" y2="562.2" stroke="#1f2430" stroke-width="1.15" />
<line x1="159.6" y1="525" x2="159.6" y2="562.2" stroke="#1f2430" stroke-width="1.15" />
<line x1="311.1" y1="525" x2="311.1" y2="562.2" stroke="#1f2430" stroke-width="1.15" />
<line x1="123.5" y1="558.1" x2="100.5" y2="558.1" stroke="#1f2430" stroke-width="1.15" />
<polygon points="100.5,558.1 110.5,555.9 110.5,560.3" fill="#1f2430"/>
<line x1="135.6" y1="558.1" x2="159.6" y2="558.1" stroke="#1f2430" stroke-width="1.15" />
<polygon points="159.6,558.1 149.6,555.9 149.6,560.3" fill="#1f2430"/>
<text transform="translate(124.9,568.3) scale(0.75,1)" font-size="19.5" fill="#262b38">E</text>
<line x1="225.9" y1="558.1" x2="159.6" y2="558.1" stroke="#1f2430" stroke-width="1.15" />
<polygon points="159.6,558.1 169.6,555.9 169.6,560.3" fill="#1f2430"/>
<line x1="246.2" y1="558.1" x2="311.1" y2="558.1" stroke="#1f2430" stroke-width="1.15" />
<polygon points="311.1,558.1 301.1,555.9 301.1,560.3" fill="#1f2430"/>
<text transform="translate(230.8,568.3) scale(0.75,1)" font-size="19.5" fill="#262b38">F</text>
<text transform="translate(148,66) rotate(36.8)" style="font-family:&quot;Liberation Serif&quot;,serif" font-size="30" fill="#000" fill-opacity="0.105">ПодшипникРу</text>
<text transform="translate(514,66) rotate(36.8)" style="font-family:&quot;Liberation Serif&quot;,serif" font-size="30" fill="#000" fill-opacity="0.105">ПодшипникРу</text>
<text transform="translate(880,66) rotate(36.8)" style="font-family:&quot;Liberation Serif&quot;,serif" font-size="30" fill="#000" fill-opacity="0.105">ПодшипникРу</text>
<text transform="translate(-35,260) rotate(36.8)" style="font-family:&quot;Liberation Serif&quot;,serif" font-size="30" fill="#000" fill-opacity="0.105">ПодшипникРу</text>
<text transform="translate(331,260) rotate(36.8)" style="font-family:&quot;Liberation Serif&quot;,serif" font-size="30" fill="#000" fill-opacity="0.105">ПодшипникРу</text>
<text transform="translate(697,260) rotate(36.8)" style="font-family:&quot;Liberation Serif&quot;,serif" font-size="30" fill="#000" fill-opacity="0.105">ПодшипникРу</text>
<text transform="translate(1063,260) rotate(36.8)" style="font-family:&quot;Liberation Serif&quot;,serif" font-size="30" fill="#000" fill-opacity="0.105">ПодшипникРу</text>
<text transform="translate(148,454) rotate(36.8)" style="font-family:&quot;Liberation Serif&quot;,serif" font-size="30" fill="#000" fill-opacity="0.105">ПодшипникРу</text>
<text transform="translate(514,454) rotate(36.8)" style="font-family:&quot;Liberation Serif&quot;,serif" font-size="30" fill="#000" fill-opacity="0.105">ПодшипникРу</text>
<text transform="translate(880,454) rotate(36.8)" style="font-family:&quot;Liberation Serif&quot;,serif" font-size="30" fill="#000" fill-opacity="0.105">ПодшипникРу</text>
</svg></body></html>
